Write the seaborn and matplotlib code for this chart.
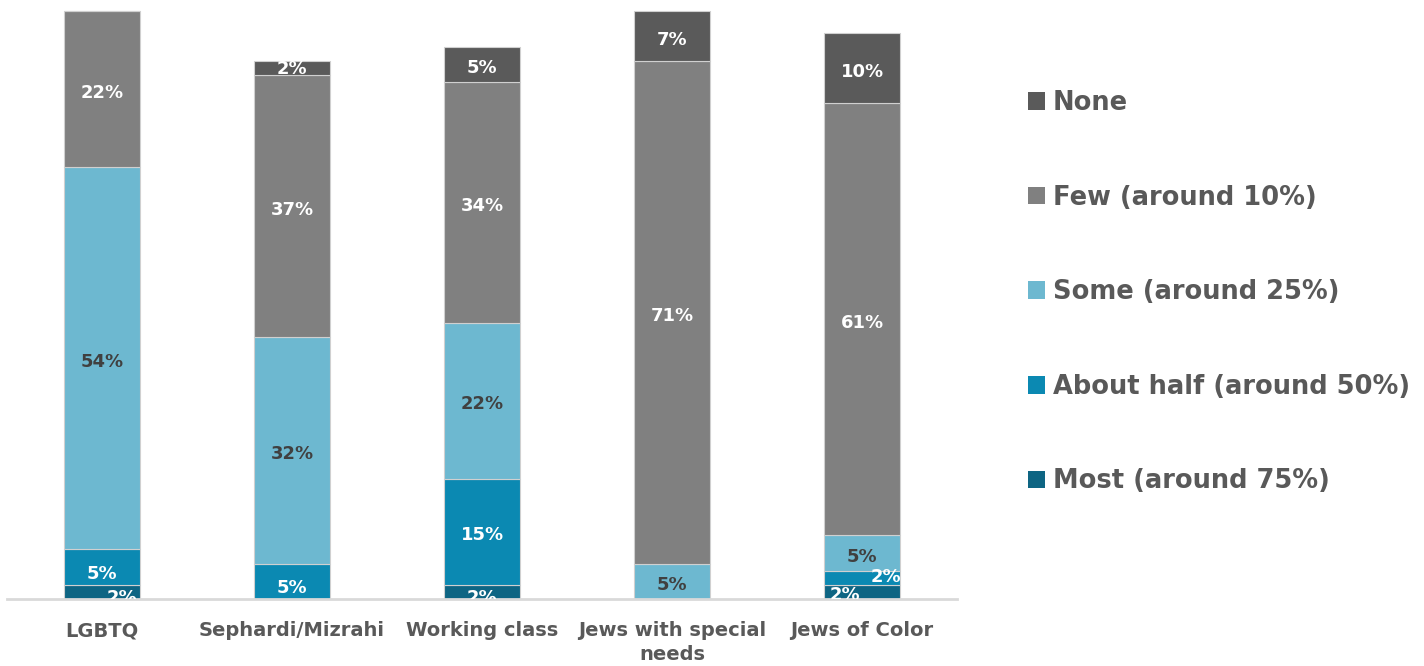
import matplotlib
matplotlib.use("Agg")
import matplotlib.pyplot as plt
from matplotlib.patches import Patch
import seaborn as sns
import numpy as np
import pandas as pd

categories = ["LGBTQ", "Sephardi/Mizrahi", "Working class", "Jews with special\nneeds", "Jews of Color"]
series_names = ["Most (around 75%)", "About half (around 50%)", "Some (around 25%)", "Few (around 10%)", "None"]
most = [2, 0, 2, 0, 2]
about_half = [5, 5, 15, 0, 2]
some = [54, 32, 22, 5, 5]
few = [22, 37, 34, 71, 61]
none = [0, 2, 5, 7, 10]

colors = ["#0E6583", "#0B89B2", "#6DB8D0", "#808080", "#5A5A5A"]
label_colors = ["white", "white", "#404040", "white", "white"]

sns.set_theme(style="white")
plt.rcParams["font.family"] = ["DejaVu Sans"]

fig = plt.figure(figsize=(14.24, 6.66), dpi=100)
ax = fig.add_axes([7 / 1424, 1 - 599 / 666, 950 / 1424, 594 / 666])

all_series = [most, about_half, some, few, none]
df = pd.DataFrame({"cat": categories})
bottom = np.zeros(len(categories))
# manual label nudges (x in category units, y in data units) for crowded small segments
nudges = {(0, 0): (0.105, -0.9), (2, 0): (0.0, -0.9), (4, 0): (-0.09, -0.4),
          (4, 1): (0.125, 0.1), (0, 1): (0.0, -1.0), (1, 1): (0.0, -1.0),
          (1, 4): (0.0, -0.1)}
for si, vals in enumerate(all_series):
    df["v"] = vals
    sns.barplot(data=df, x="cat", y="v", color=colors[si], bottom=bottom, width=0.405,
                edgecolor="#D0D0D0", linewidth=0.8, ax=ax, saturation=1)
    for ci, v in enumerate(vals):
        if v <= 0:
            continue
        dx, dy = nudges.get((ci, si), (0, -0.5))
        ax.text(ci + dx, bottom[ci] + v / 2 + dy, f"{v}%", ha="center", va="center",
                color=label_colors[si], fontsize=13, fontweight="bold", clip_on=True)
    bottom = bottom + np.array(vals)

ax.set_xlim(-0.5, 4.5)
ax.set_ylim(0, 83.9)
ax.set_xlabel("")
ax.set_ylabel("")
ax.set_yticks([])
for s in ["left", "right", "top"]:
    ax.spines[s].set_visible(False)
ax.spines["bottom"].set_color("#D9D9D9")
ax.spines["bottom"].set_linewidth(2)
ax.tick_params(axis="x", length=0, pad=16, labelsize=14, labelcolor="#595959")
for t in ax.get_xticklabels():
    t.set_fontweight("bold")
    t.set_linespacing(1.3)
    t.set_verticalalignment("top")

handles = [Patch(facecolor=colors[i], edgecolor="none", label=series_names[i]) for i in range(4, -1, -1)]
leg = fig.legend(handles=handles, loc="upper left", bbox_to_anchor=(1028 / 1424, 1 - 90 / 666),
                 frameon=False, borderpad=0, borderaxespad=0, handlelength=0.67, handleheight=0.67,
                 handletextpad=0.3, labelspacing=2.67,
                 prop={"size": 18.5, "weight": "bold"})
for t in leg.get_texts():
    t.set_color("#595959")

fig.savefig("out.png", dpi=100)
